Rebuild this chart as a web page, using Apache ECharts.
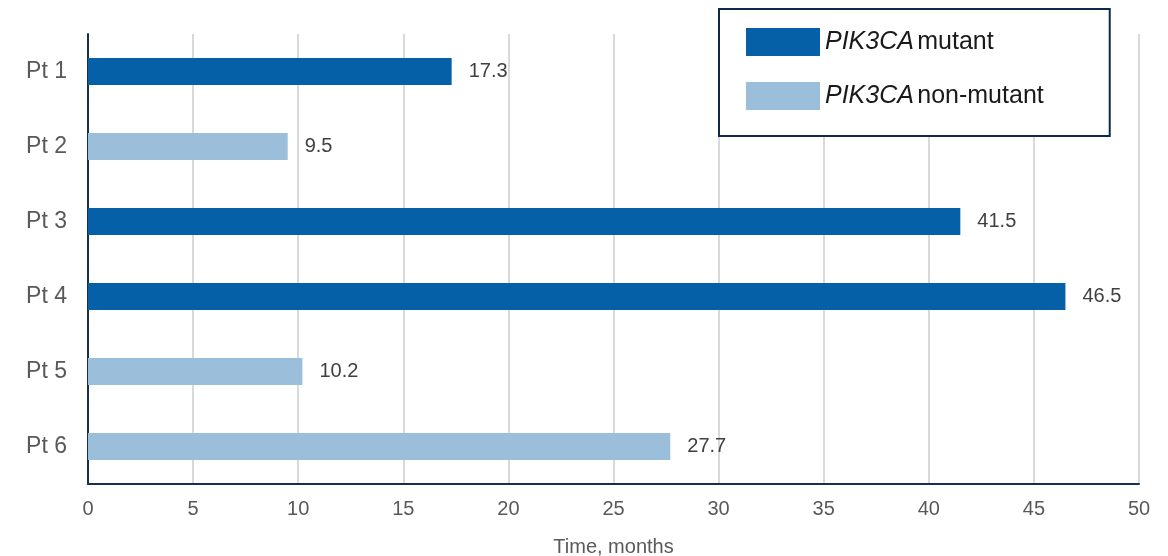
<!DOCTYPE html>
<html>
<head>
<meta charset="utf-8">
<script src="https://cdn.jsdelivr.net/npm/echarts@6/dist/echarts.min.js"></script>
<style>
  html, body { margin: 0; padding: 0; background: #fff; }
  #chart { width: 1168px; height: 556px; }
</style>
</head>
<body>
<div id="chart"></div>
<script>
// Patients, top to bottom
const patients = ['Pt 1', 'Pt 2', 'Pt 3', 'Pt 4', 'Pt 5', 'Pt 6'];
// Time on treatment (months); null where the patient belongs to the other group
const mutantMonths = [17.3, null, 41.5, 46.5, null, null];
const nonMutantMonths = [null, 9.5, null, null, 10.2, 27.7];
const xTicks = [0, 5, 10, 15, 20, 25, 30, 35, 40, 45, 50];

const FONT = "'Liberation Sans', Arial, sans-serif";
const chart = echarts.init(document.getElementById('chart'));

const labelStyle = {
  show: true,
  position: 'right',
  distance: 17,
  color: '#404040',
  fontSize: 20,
  fontFamily: FONT,
  formatter: p => p.value == null ? '' : p.value.toFixed(1)
};

chart.setOption({
  animation: false,
  grid: { left: 88, right: 29, top: 34, bottom: 72, containLabel: false, outerBoundsMode: 'none' },
  legend: {
    orient: 'vertical',
    left: 719,
    top: 9,
    padding: [19, 66, 26, 27],
    itemWidth: 74,
    itemHeight: 28,
    itemGap: 26,
    backgroundColor: '#fff',
    borderColor: '#0e2a47',
    borderWidth: 2,
    borderRadius: 0,
    icon: 'rect',
    data: ['mutant', 'non-mutant'],
    formatter: name => '{i|PIK3CA} {n|' + name + '}',
    textStyle: {
      rich: {
        i: { fontStyle: 'italic', fontSize: 25, color: '#1a1a1a', fontFamily: FONT },
        n: { fontSize: 25, color: '#1a1a1a', fontFamily: FONT }
      }
    }
  },
  xAxis: {
    type: 'value',
    min: xTicks[0],
    max: xTicks[xTicks.length - 1],
    interval: 5,
    name: 'Time, months',
    nameLocation: 'middle',
    nameGap: 53,
    nameTextStyle: { color: '#595959', fontSize: 20, fontFamily: FONT },
    axisLine: { show: true, lineStyle: { color: '#14324f', width: 2 } },
    axisTick: { show: false },
    axisLabel: { color: '#595959', fontSize: 20, margin: 15, fontFamily: FONT },
    splitLine: { show: true, lineStyle: { color: '#d9d9d9', width: 2 } }
  },
  yAxis: {
    type: 'category',
    data: patients,
    inverse: true,
    axisLine: { show: true, lineStyle: { color: '#14324f', width: 2 } },
    axisTick: { show: false },
    axisLabel: { color: '#595959', fontSize: 23, margin: 21, fontFamily: FONT },
    splitLine: { show: false }
  },
  series: [
    {
      name: 'mutant',
      type: 'bar',
      stack: 'pt',
      data: mutantMonths,
      barWidth: 27,
      itemStyle: { color: '#0560a8' },
      label: labelStyle
    },
    {
      name: 'non-mutant',
      type: 'bar',
      stack: 'pt',
      data: nonMutantMonths,
      barWidth: 27,
      itemStyle: { color: '#9bbedb' },
      label: labelStyle
    }
  ]
});
</script>
</body>
</html>
